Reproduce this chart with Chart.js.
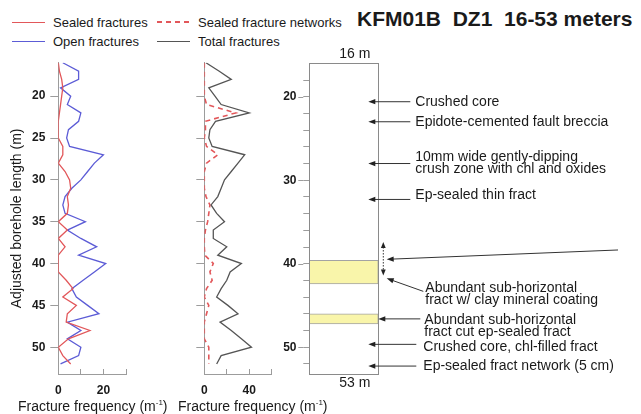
<!DOCTYPE html>
<html lang="en">
<head>
<meta charset="UTF-8" />
<title>KFM01B DZ1 16-53 meters</title>
<script src="https://cdn.jsdelivr.net/npm/chart.js@4.4.0/dist/chart.umd.min.js"></script>
<style>
  body {
    margin: 0;
    width: 641px;
    height: 414px;
    position: relative;
    overflow: hidden;
    background: #fff;
    color: #1a1a1a;
    font-family: "Liberation Sans", Arial, sans-serif;
  }
  .panel { position: absolute; top: 0; height: 414px; }
  #p1 { left: 0; width: 170px; }
  #p2 { left: 150px; width: 150px; }
  #p3 { left: 280px; width: 361px; }
  .key {
    position: absolute;
    font-size: 13px;
    line-height: 16px;
    white-space: nowrap;
  }
  .sw {
    display: inline-block;
    width: 33px;
    height: 1.2px;
    margin-right: 8px;
    vertical-align: 4px;
  }
  .title {
    position: absolute;
    left: 357px;
    top: 7px;
    font-size: 21px;
    font-weight: bold;
    white-space: pre;
  }
  .xt {
    position: absolute;
    top: 394px;
    font-size: 14px;
    line-height: 18px;
    white-space: nowrap;
  }
  .xt sup { font-size: 8px; vertical-align: 6px; }
</style>
</head>
<body>
<div class="key" style="left:12px;top:15px"><i class="sw" style="background:#e2575a"></i>Sealed fractures</div>
<div class="key" style="left:157px;top:15px"><i class="sw" style="height:1.6px;background:repeating-linear-gradient(to right,#e2575a 0 5px,transparent 5px 9px)"></i>Sealed fracture networks</div>
<div class="key" style="left:12px;top:34px"><i class="sw" style="background:#5c5cd6"></i>Open fractures</div>
<div class="key" style="left:157px;top:34px"><i class="sw" style="background:#555"></i>Total fractures</div>
<div class="title">KFM01B  DZ1  16-53 meters</div>

<div class="panel" id="p1"><canvas id="c1"></canvas></div>
<div class="panel" id="p2"><canvas id="c2"></canvas></div>
<div class="panel" id="p3"><canvas id="c3"></canvas></div>

<div class="xt" style="left:18px">Fracture frequency (m<sup>-1</sup>)</div>
<div class="xt" style="left:178px">Fracture frequency (m<sup>-1</sup>)</div>

<script>
// borehole depth of each sample (m)
const depths = [16, 17, 18, 19, 20, 21, 22, 23, 24, 25, 26, 27, 28, 29, 30, 31, 32, 33, 34,
                35, 36, 37, 38, 39, 40, 41, 42, 43, 44, 45, 46, 47, 48, 49, 50, 51, 52];

// fracture frequency per metre (m-1)
const sealed   = [0, 0.5, 1.5, 2, 1.5, 1, 0.5, 0, 0, 0, 2, 2, 0, 3, 5, 5.5, 4, 4.5, 4,
                  0, 4, 0, 3, 0, 0, 0, 3.5, 6.5, 2, 8, 4, 3.5, 14, 4.5, 0, 2, 5.5];
const open     = [2, 9, 9, 1, 5.5, 4, 10, 9, 4.5, 3.7, 5, 20, 16, 13, 10, 6, 3, 2, 3,
                  12, 4, 10, 17, 9, 21, 16, 11, 6, 8, 13, 18, 4, 10, 4, 10, 9, 1];
const networks = [0, 0, 0, 0, 0, 2, 28, 1, 1, 0, 2, 12, 2, 0, 0, 0, 1.5, 5, 4,
                  3, 1, 0, 0, 0.5, 8, 5, 7, 2, 0, 4, 2, 0, 0, 0, 4, 4, 4];
const total    = [1.5, 13, 24, 4, 9.5, 15, 40, 10, 5, 4, 7, 36, 30, 24, 18, 15, 12, 6, 11,
                  18, 8, 8, 20, 12, 33, 23, 20, 15, 11, 21, 30, 14, 24, 33, 42, 15, 11];

// axis ticks
const depthTicks = [20, 25, 30, 35, 40, 45, 50];
const coreTicks = [18, 20, 22, 24, 26, 28, 30, 32, 34, 36, 38, 40, 42, 44, 46, 48, 50, 52];
const coreLabels = [20, 30, 40, 50];
const freqTicks1 = [0, 10, 20, 30];
const freqLabels1 = [0, 20];
const freqTicks2 = [0, 20, 40, 60];
const freqLabels2 = [0, 40];

// core log: yellow intervals and notes
const bandTops = [39.6, 46.0];
const bandBases = [42.4, 47.2];
const noteDepths = [20.6, 23, 28, 32.3, 46.6, 49.65, 52.25];
const noteLabels = [
  ['Crushed core'],
  ['Epidote-cemented fault breccia'],
  ['10mm wide gently-dipping', 'crush zone with chl and oxides'],
  ['Ep-sealed thin fract'],
  ['Abundant sub-horizontal', 'fract cut ep-sealed fract'],
  ['Crushed core, chl-filled fract'],
  ['Ep-sealed fract network (5 cm)']
];
const clayDepth = 41.75;
const clayLabel = ['Abundant sub-horizontal', 'fract w/ clay mineral coating'];
const zoneRange = [37.4, 41.4];
const pointerDepths = [38.35, 39.47];
const coreTop = '16 m';
const coreBase = '53 m';

const RED = '#e2575a';
const BLUE = '#5c5cd6';
const GREY = '#555555';
const AXIS = '#9c9c9c';
const INK = '#1a1a1a';
const FONT = '"Liberation Sans", Arial, sans-serif';
const TICK_FONT = { family: FONT, size: 12, weight: 'bold' };

Chart.defaults.font.family = FONT;
Chart.defaults.color = INK;
Chart.defaults.animation = false;

const pts = vals => depths.map((d, i) => ({ x: vals[i], y: d }));

function line(label, vals, color, extra) {
  return Object.assign({
    label, data: pts(vals), showLine: true, borderColor: color,
    borderWidth: 1.3, pointRadius: 0, tension: 0, fill: false
  }, extra || {});
}

function depthAxis(width, labels, title) {
  return {
    type: 'linear', reverse: true, min: 16, max: 53.2,
    afterBuildTicks: s => { s.ticks = depthTicks.map(v => ({ value: v })); },
    afterFit: s => { s.width = width; },
    ticks: {
      autoSkip: false, padding: 5,
      font: TICK_FONT,
      callback: v => labels ? v : ''
    },
    grid: { drawOnChartArea: false, tickLength: 8, color: AXIS },
    border: { color: AXIS },
    title: title ? {
      display: true, text: title, font: { size: 14 }, color: INK,
      padding: { top: 8.6, bottom: 0 }
    } : { display: false }
  };
}

function freqAxis(max, tickVals, labelVals) {
  return {
    type: 'linear', min: 0, max,
    afterBuildTicks: s => { s.ticks = tickVals.map(v => ({ value: v })); },
    afterFit: s => { s.height = 40; },
    ticks: {
      autoSkip: false, maxRotation: 0, padding: 14,
      font: TICK_FONT,
      callback: v => labelVals.includes(v) ? v : ''
    },
    grid: { drawOnChartArea: false, tickLength: -5, color: AXIS },
    border: { color: AXIS }
  };
}

const quiet = { legend: { display: false }, tooltip: { enabled: false } };

// sealed and open fractures
new Chart(document.getElementById('c1'), {
  type: 'scatter',
  data: { datasets: [
    line('Sealed fractures', sealed, RED),
    line('Open fractures', open, BLUE)
  ] },
  options: {
    responsive: true, maintainAspectRatio: false,
    layout: { padding: { top: 62.7, right: 44, left: 0, bottom: 0 } },
    plugins: quiet,
    scales: {
      x: freqAxis(30, freqTicks1, freqLabels1),
      y: depthAxis(58.3, true, 'Adjusted borehole length (m)')
    }
  }
});

// total fractures and sealed networks
new Chart(document.getElementById('c2'), {
  type: 'scatter',
  data: { datasets: [
    line('Total fractures', total, GREY),
    line('Sealed fracture networks', networks, RED, { borderDash: [5, 4], borderWidth: 1.6 })
  ] },
  options: {
    responsive: true, maintainAspectRatio: false,
    layout: { padding: { top: 62.7, right: 28.3, left: 0, bottom: 0 } },
    plugins: quiet,
    scales: {
      x: freqAxis(60, freqTicks2, freqLabels2),
      y: depthAxis(54.3, false, null)
    }
  }
});

// arrow with a filled head at (tx, ty), coming from (fx, fy)
function arrow(ctx, fx, fy, tx, ty) {
  const a = Math.atan2(ty - fy, tx - fx);
  ctx.beginPath();
  ctx.moveTo(fx, fy);
  ctx.lineTo(tx - Math.cos(a) * 5, ty - Math.sin(a) * 5);
  ctx.stroke();
  ctx.beginPath();
  ctx.moveTo(tx, ty);
  ctx.lineTo(tx - Math.cos(a) * 7 + Math.sin(a) * 2.6, ty - Math.sin(a) * 7 - Math.cos(a) * 2.6);
  ctx.lineTo(tx - Math.cos(a) * 7 - Math.sin(a) * 2.6, ty - Math.sin(a) * 7 + Math.cos(a) * 2.6);
  ctx.closePath();
  ctx.fill();
}

// where each note's arrow starts/ends and where its text sits, relative to the log
const noteLayout = [
  { tip: -10, end: 32, text: 37, dy: 0 },
  { tip: -10, end: 32, text: 37, dy: 0 },
  { tip: -10, end: 32, text: 37, dy: -6 },
  { tip: -10, end: 32, text: 37, dy: -4 },
  { tip: 0, end: 42, text: 46, dy: 1 },
  { tip: -10, end: 38, text: 45, dy: 3 },
  { tip: -10, end: 38, text: 45, dy: 0 }
];

const coreLog = {
  id: 'coreLog',
  afterDraw(chart) {
    const { ctx, chartArea: a, scales: { y } } = chart;
    ctx.save();
    // log outline
    ctx.strokeStyle = '#8a8a8a';
    ctx.lineWidth = 1;
    ctx.strokeRect(Math.round(a.left) + 0.5, Math.round(a.top) + 0.5,
                   Math.round(a.right - a.left), Math.round(a.bottom - a.top));
    // longer ticks at labelled depths
    ctx.beginPath();
    coreLabels.forEach(v => {
      const py = Math.round(y.getPixelForValue(v)) + 0.5;
      ctx.moveTo(a.left - 11, py);
      ctx.lineTo(a.left - 6, py);
    });
    ctx.strokeStyle = AXIS;
    ctx.stroke();

    ctx.font = '14px ' + FONT;
    ctx.fillStyle = INK;
    ctx.textBaseline = 'middle';
    ctx.textAlign = 'center';
    const mid = (a.left + a.right) / 2 + 11;
    ctx.fillText(coreTop, mid, a.top - 9);
    ctx.fillText(coreBase, mid, a.bottom + 9);

    ctx.textAlign = 'left';
    ctx.strokeStyle = '#333';
    ctx.fillStyle = '#222';
    ctx.lineWidth = 1;
    noteDepths.forEach((d, i) => {
      const L = noteLayout[i];
      const py = y.getPixelForValue(d);
      arrow(ctx, a.right + L.end, py, a.right + L.tip, py);
      noteLabels[i].forEach((t, k) => {
        ctx.fillStyle = INK;
        ctx.fillText(t, a.right + L.text, py + L.dy + k * 12);
        ctx.fillStyle = '#222';
      });
    });

    // clay-coated fractures: slanted arrow
    const cy = y.getPixelForValue(clayDepth);
    arrow(ctx, a.right + 45, cy + 13, a.right + 8.4, cy);
    ctx.fillStyle = INK;
    clayLabel.forEach((t, k) => ctx.fillText(t, a.right + 47, cy + 9.5 + k * 12.3));
    ctx.fillStyle = '#222';

    // long pointer coming in from the right
    arrow(ctx, chart.width - 23, y.getPixelForValue(pointerDepths[0]),
          a.right + 8.4, y.getPixelForValue(pointerDepths[1]));

    // dotted extent of the zone
    const zx = a.right + 5;
    const z0 = y.getPixelForValue(zoneRange[0]);
    const z1 = y.getPixelForValue(zoneRange[1]);
    ctx.setLineDash([1.5, 1.5]);
    ctx.beginPath();
    ctx.moveTo(zx, z0 + 5);
    ctx.lineTo(zx, z1 - 5);
    ctx.stroke();
    ctx.setLineDash([]);
    [[z0, -1], [z1, 1]].forEach(([p, s]) => {
      ctx.beginPath();
      ctx.moveTo(zx, p);
      ctx.lineTo(zx - 2.4, p - s * 6);
      ctx.lineTo(zx + 2.4, p - s * 6);
      ctx.closePath();
      ctx.fill();
    });
    ctx.restore();
  }
};

// core log with yellow intervals
new Chart(document.getElementById('c3'), {
  type: 'bar',
  data: {
    labels: ['core'],
    datasets: bandTops.map((t, i) => ({
      label: 'interval ' + (i + 1),
      data: [[t, bandBases[i]]],
      backgroundColor: '#f9f5aa',
      borderColor: '#a3a3a3',
      borderWidth: 1,
      borderSkipped: false,
      barPercentage: 1,
      categoryPercentage: 1,
      grouped: false
    }))
  },
  options: {
    responsive: true, maintainAspectRatio: false,
    layout: { padding: { top: 63.3, right: 262.7, left: 0, bottom: 40 } },
    plugins: quiet,
    scales: {
      x: { display: false },
      y: {
        type: 'linear', reverse: true, min: 16, max: 53.2,
        afterBuildTicks: s => { s.ticks = coreTicks.map(v => ({ value: v })); },
        afterFit: s => { s.width = 29.3; },
        ticks: {
          autoSkip: false, padding: 6.8,
          font: TICK_FONT,
          callback: v => coreLabels.includes(v) ? v : ''
        },
        grid: { drawOnChartArea: false, tickLength: 6, color: AXIS },
        border: { color: '#8a8a8a' }
      }
    }
  },
  plugins: [coreLog]
});
</script>
</body>
</html>
